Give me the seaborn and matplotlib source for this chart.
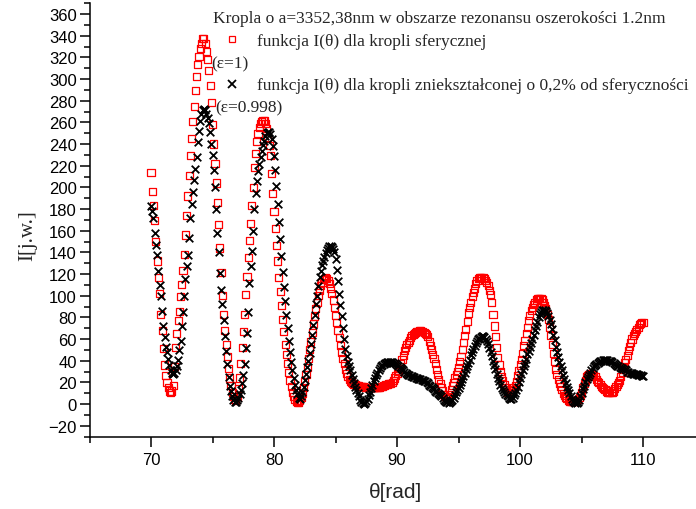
import numpy as np
import matplotlib
matplotlib.use("Agg")
import matplotlib.pyplot as plt
from matplotlib.lines import Line2D
from matplotlib.ticker import MultipleLocator
import seaborn as sns

# ---------------- data (theta sampled every 0.1 rad, one row per unit) ----------------
theta_start = 70
theta_step = 0.1

# I(theta) for the spherical droplet (eps = 1), rows 70.0-70.9, 71.0-71.9, ... , 110.0
sphere_rows = [
    [214, 196, 183, 169, 150, 132, 117, 102, 83, 68],
    [51, 36, 26, 20, 15, 12, 11, 12, 17, 35],
    [52, 65, 77, 85, 99, 110, 123, 138, 156, 174],
    [192, 211, 229, 245, 261, 275, 289, 302, 313, 321],
    [328, 333, 337, 337, 333, 325, 318, 308, 294, 278],
    [258, 240, 222, 204, 186, 166, 144, 121, 100, 83],
    [68, 55, 44, 33, 24, 17, 11, 7, 4, 3],
    [7, 14, 24, 37, 52, 67, 83, 101, 118, 135],
    [151, 167, 183, 200, 218, 231, 242, 250, 255, 259],
    [261, 262, 262, 259, 254, 246, 239, 229, 213, 194],
    [178, 162, 146, 132, 117, 104, 91, 78, 67, 55],
    [46, 37, 29, 22, 16, 11, 7, 4, 2, 1],
    [1, 3, 6, 10, 15, 21, 27, 34, 42, 50],
    [58, 66, 74, 81, 88, 94, 100, 105, 109, 112],
    [115, 116, 117, 116, 114, 111, 107, 102, 96, 89],
    [82, 75, 68, 61, 54, 48, 42, 37, 32, 28],
    [25, 23, 21, 20, 19, 18, 18, 17, 17, 17],
    [16, 16, 16, 16, 15, 15, 15, 15, 15, 15],
    [15, 15, 15, 15, 15, 15, 15, 16, 16, 17],
    [17, 18, 18, 19, 19, 19, 20, 22, 24, 26],
    [28, 30, 33, 37, 41, 45, 49, 52, 55, 57],
    [59, 61, 63, 64, 65, 66, 67, 67, 68, 68],
    [67, 67, 66, 65, 64, 62, 58, 54, 50, 46],
    [42, 37, 32, 27, 23, 19, 15, 12, 9, 7],
    [6, 5, 6, 9, 13, 17, 20, 24, 27, 30],
    [34, 39, 44, 50, 57, 63, 69, 76, 84, 89],
    [94, 99, 103, 107, 111, 114, 116, 117, 117, 117],
    [117, 116, 114, 112, 109, 105, 101, 94, 83, 72],
    [62, 52, 43, 36, 30, 25, 22, 18, 15, 13],
    [11, 11, 11, 12, 13, 15, 17, 21, 26, 31],
    [36, 41, 47, 54, 59, 65, 71, 77, 82, 86],
    [89, 92, 94, 96, 97, 97, 97, 97, 96, 94],
    [91, 88, 83, 78, 71, 63, 55, 47, 39, 32],
    [27, 23, 19, 16, 13, 10, 8, 6, 5, 3],
    [2, 2, 2, 2, 2, 2, 3, 4, 6, 8],
    [11, 15, 19, 22, 25, 26, 27, 28, 28, 27],
    [26, 25, 23, 21, 20, 18, 16, 15, 14, 13],
    [12, 11, 11, 11, 11, 11, 12, 14, 16, 18],
    [20, 22, 25, 29, 34, 38, 41, 45, 49, 53],
    [57, 60, 63, 65, 67, 69, 71, 73, 74, 75],
    [75],
]

# I(theta) for the droplet deformed by 0.2% (eps = 0.998)
deformed_rows = [
    [183, 178, 172, 158, 147, 138, 123, 110, 100, 86],
    [72, 62, 53, 48, 42, 36, 31, 29, 28, 29],
    [31, 35, 41, 50, 58, 72, 85, 100, 115, 127],
    [138, 153, 172, 185, 196, 207, 217, 228, 242, 252],
    [261, 268, 271, 272, 271, 268, 264, 259, 251, 240],
    [230, 216, 200, 180, 158, 140, 121, 105, 92, 78],
    [63, 49, 37, 25, 17, 12, 7, 4, 2, 2],
    [4, 6, 9, 13, 19, 27, 37, 52, 66, 85],
    [112, 127, 141, 160, 180, 195, 206, 215, 222, 228],
    [234, 239, 243, 247, 250, 251, 251, 249, 245, 238],
    [229, 216, 201, 185, 168, 152, 137, 122, 108, 95],
    [82, 70, 58, 48, 39, 31, 24, 18, 13, 9],
    [6, 5, 7, 11, 16, 22, 28, 34, 40, 47],
    [55, 64, 73, 82, 92, 100, 109, 117, 123, 128],
    [132, 136, 139, 142, 144, 146, 146, 145, 143, 140],
    [134, 124, 114, 102, 91, 81, 70, 60, 51, 44],
    [39, 35, 31, 27, 23, 19, 16, 13, 10, 7],
    [4, 2, 1, 0, 1, 3, 5, 8, 11, 15],
    [18, 21, 24, 27, 29, 31, 33, 35, 36, 37],
    [38, 38, 39, 39, 39, 39, 39, 38, 38, 37],
    [36, 35, 34, 33, 32, 31, 30, 29, 28, 27],
    [27, 26, 26, 25, 25, 24, 24, 23, 23, 23],
    [22, 22, 21, 21, 20, 19, 18, 17, 16, 15],
    [14, 12, 11, 10, 9, 8, 7, 6, 4, 3],
    [2, 2, 1, 2, 3, 4, 6, 8, 11, 13],
    [15, 18, 20, 23, 26, 29, 32, 35, 38, 41],
    [45, 48, 51, 54, 56, 58, 60, 61, 62, 63],
    [63, 62, 60, 58, 55, 52, 48, 44, 40, 36],
    [32, 28, 24, 21, 18, 15, 13, 11, 9, 8],
    [7, 6, 5, 5, 6, 8, 10, 13, 16, 20],
    [24, 28, 31, 35, 38, 42, 46, 49, 53, 56],
    [60, 64, 68, 72, 76, 80, 83, 85, 87, 87],
    [87, 86, 84, 81, 78, 74, 69, 64, 59, 53],
    [48, 43, 39, 35, 31, 27, 23, 19, 16, 13],
    [10, 7, 5, 3, 2, 1, 1, 2, 4, 7],
    [10, 14, 17, 20, 23, 25, 27, 29, 31, 33],
    [35, 36, 37, 38, 39, 40, 40, 41, 41, 41],
    [41, 41, 40, 40, 40, 39, 38, 37, 36, 35],
    [35, 34, 33, 33, 32, 32, 31, 30, 30, 29],
    [29, 29, 28, 28, 28, 28, 27, 27, 27, 26],
    [26],
]

title_text = "Kropla o a=3352,38nm w obszarze rezonansu oszerokości 1.2nm"
label_sphere = "funkcja I(θ) dla kropli sferycznej"
eps_sphere = "(ε=1)"
label_deformed = "funkcja I(θ) dla kropli zniekształconej o 0,2% od sferyczności"
eps_deformed = "(ε=0.998)"
x_label = "θ[rad]"
y_label = "I[j.w.]"
x_ticks = [70, 80, 90, 100, 110]
y_ticks = list(range(-20, 361, 20))


def rows_to_xy(rows):
    xs, ys = [], []
    for i, row in enumerate(rows):
        for j, v in enumerate(row):
            xs.append(round(theta_start + i + j * theta_step, 1))
            ys.append(v)
    return np.array(xs), np.array(ys)


theta_s, I_sphere = rows_to_xy(sphere_rows)
theta_d, I_deformed = rows_to_xy(deformed_rows)

# ---------------- figure ----------------
sns.set_theme(style="ticks")
plt.rcParams['font.family'] = ['Liberation Sans', 'DejaVu Sans']

W, H = 696, 510
fig = plt.figure(figsize=(W / 100, H / 100), dpi=100)
ax = fig.add_axes([89.5 / W, 1 - 437.5 / H, 606.5 / W, 433.3 / H])

sns.scatterplot(x=theta_s, y=I_sphere, marker='s', s=26, color='#ff0000',
                facecolor='none', edgecolor='#ff0000', linewidth=0.9, ax=ax,
                zorder=2, legend=False)
sns.scatterplot(x=theta_d, y=I_deformed, marker='x', s=30, color='black',
                linewidth=1.3, ax=ax, zorder=3, legend=False)

ax.set_xlim(65, 114.3)
ax.set_ylim(-30, 370)
ax.set_xticks(x_ticks)
ax.set_yticks(y_ticks)
ax.xaxis.set_minor_locator(MultipleLocator(5))
ax.yaxis.set_minor_locator(MultipleLocator(10))
ax.tick_params(which='major', direction='out', length=7, width=1.1,
               labelsize=12, color='black', labelcolor='black')
ax.tick_params(axis='y', which='major', pad=2)
ax.tick_params(axis='x', which='major', pad=4)
ax.tick_params(which='minor', direction='out', length=4, width=1.1, color='black')
for side in ['top', 'right']:
    ax.spines[side].set_visible(False)
for side in ['left', 'bottom']:
    ax.spines[side].set_linewidth(1.1)
    ax.spines[side].set_color('black')
ax.set_xlabel("")
ax.set_ylabel("")

serif = ['Liberation Serif', 'DejaVu Serif']
fig.text(396 / W, 1 - 493 / H, x_label, ha='center', va='center', fontsize=15,
         family=['Liberation Sans', 'DejaVu Sans'])
fig.text(28 / W, 1 - 236 / H, y_label, ha='center', va='center', fontsize=15,
         rotation=90, family=serif)

# legend block (drawn as text + marker samples)
fig.text(212.7 / W, 1 - 19 / H, title_text, ha='left', va='center', fontsize=12.5, family=serif)
fig.add_artist(Line2D([231.7 / W], [1 - 40 / H], marker='s', markersize=5,
                      markerfacecolor='none', markeredgecolor='#ff0000',
                      markeredgewidth=0.9, linestyle='none'))
fig.text(256.7 / W, 1 - 42 / H, label_sphere, ha='left', va='center', fontsize=12.5, family=serif)
fig.text(211.7 / W, 1 - 64 / H, eps_sphere, ha='left', va='center', fontsize=12.5, family=serif)
fig.add_artist(Line2D([231.7 / W], [1 - 85 / H], marker='x', markersize=5.5,
                      markeredgecolor='black', markeredgewidth=1.3, linestyle='none'))
fig.text(256.7 / W, 1 - 86 / H, label_deformed, ha='left', va='center', fontsize=12.5, family=serif)
fig.text(215 / W, 1 - 108 / H, eps_deformed, ha='left', va='center', fontsize=12.5, family=serif)

fig.savefig("out.png", dpi=100)
